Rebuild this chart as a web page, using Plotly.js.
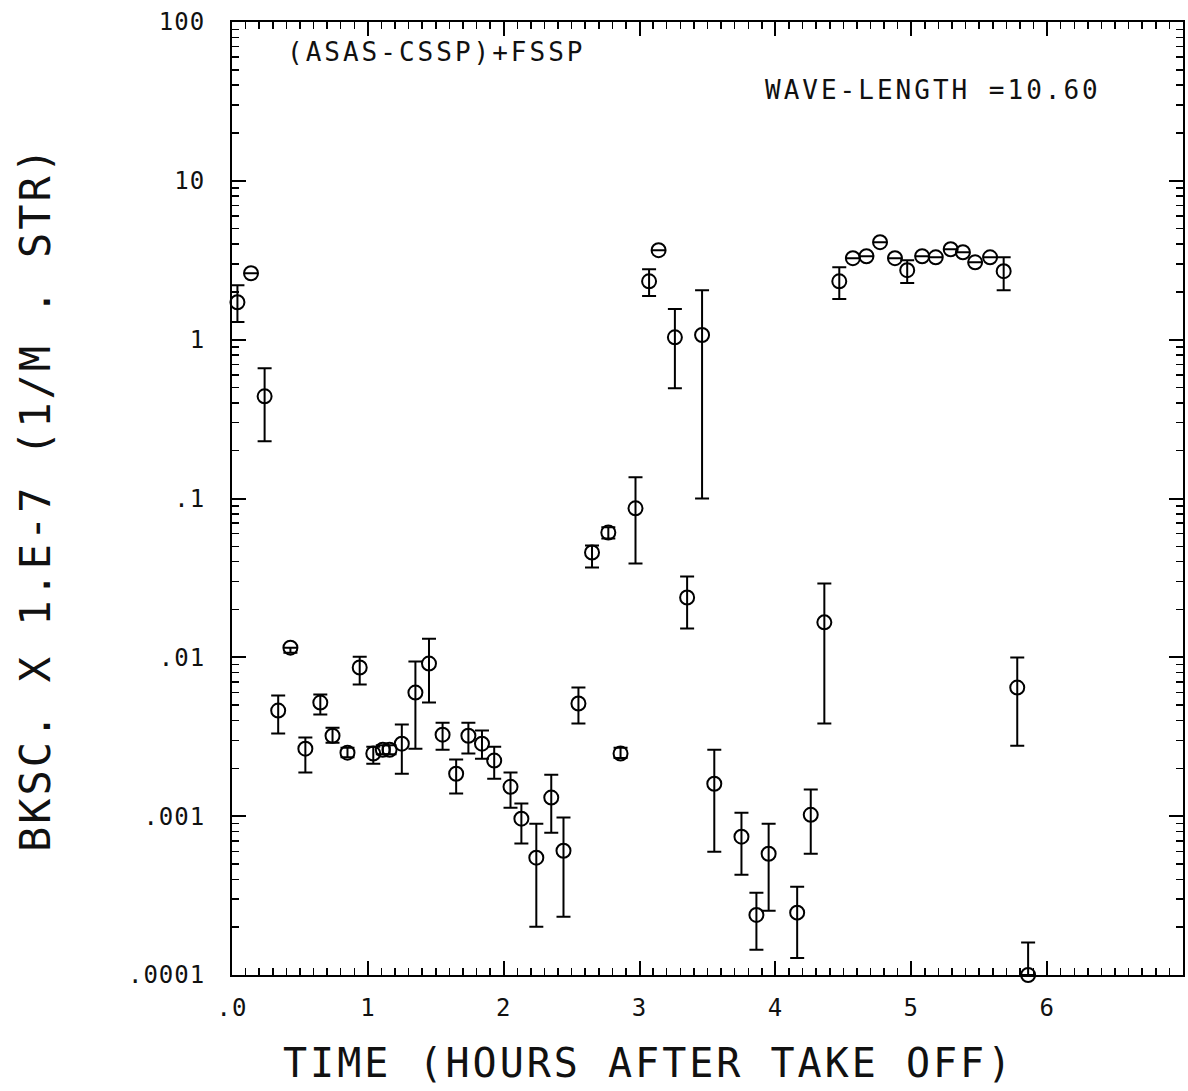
<!DOCTYPE html>
<html>
<head>
<meta charset="utf-8">
<script src="https://cdn.plot.ly/plotly-3.0.1.min.js"></script>
<style>
  html, body { margin: 0; padding: 0; background: #fff; }
  #chart { width: 1188px; height: 1091px; }
  .xtitle, .ytitle { letter-spacing: 3px; }
  .annotation-text { letter-spacing: 3px; }
  .xtick text, .ytick text { letter-spacing: 1px; }
</style>
</head>
<body>
<div id="chart"></div>
<script>
// Time (hours after take off)
const time = [0.04, 0.14, 0.24, 0.34, 0.43, 0.54, 0.65, 0.74, 0.85, 0.94,
  1.04, 1.11, 1.16, 1.25, 1.35, 1.45, 1.55, 1.65, 1.74, 1.84,
  1.93, 2.05, 2.13, 2.24, 2.35, 2.44, 2.55, 2.65, 2.77, 2.86,
  2.97, 3.07, 3.14, 3.26, 3.35, 3.46, 3.55, 3.75, 3.86, 3.95,
  4.16, 4.26, 4.36, 4.47, 4.57, 4.67, 4.77, 4.88, 4.97, 5.08,
  5.18, 5.29, 5.38, 5.47, 5.58, 5.68, 5.78, 5.86];
// Backscatter x 1.E-7 (1/M . STR)
const bksc = [1.72, 2.62, 0.44, 0.00462, 0.0115, 0.00266, 0.00519, 0.00321, 0.00251, 0.00863,
  0.00248, 0.00262, 0.00262, 0.00286, 0.0060, 0.00914, 0.00326, 0.00185, 0.00321, 0.00286,
  0.00224, 0.00153, 0.000964, 0.000548, 0.00131, 0.000606, 0.00512, 0.0457, 0.0611, 0.00248,
  0.0867, 2.33, 3.66, 1.035, 0.0238, 1.07, 0.0016, 0.000743, 0.000239, 0.00058,
  0.000247, 0.00102, 0.0166, 2.33, 3.26, 3.35, 4.11, 3.26, 2.74, 3.35,
  3.3, 3.71, 3.55, 3.07, 3.3, 2.7, 0.00645, 0.0001];
// Upper end of error bar
const upper = [2.2, 2.62, 0.66, 0.00575, 0.0115, 0.00313, 0.00583, 0.0036, 0.0027, 0.0101,
  0.00274, 0.0028, 0.0028, 0.00377, 0.00942, 0.0131, 0.00388, 0.00227, 0.00388, 0.00346,
  0.00274, 0.00188, 0.0012, 0.000897, 0.00182, 0.00098, 0.00646, 0.0506, 0.066, 0.0027,
  0.136, 2.78, 3.66, 1.56, 0.0323, 2.05, 0.00262, 0.00105, 0.00033, 0.000897,
  0.00036, 0.00147, 0.0292, 2.86, 3.26, 3.35, 4.11, 3.26, 3.16, 3.35,
  3.3, 3.71, 3.55, 3.07, 3.3, 3.3, 0.00997, 0.00016];
// Lower end of error bar
const lower = [1.29, 2.62, 0.229, 0.00331, 0.0107, 0.00188, 0.00437, 0.0029, 0.00235, 0.00675,
  0.00214, 0.00245, 0.00245, 0.00185, 0.00266, 0.00519, 0.00262, 0.00139, 0.00248, 0.0023,
  0.00172, 0.00113, 0.000672, 0.000201, 0.000787, 0.000233, 0.00383, 0.0368, 0.056, 0.00232,
  0.039, 1.88, 3.66, 0.494, 0.0152, 0.1, 0.000597, 0.000428, 0.000144, 0.000254,
  0.000128, 0.00058, 0.00383, 1.8, 3.26, 3.35, 4.11, 3.26, 2.27, 3.35,
  3.3, 3.71, 3.55, 3.07, 3.3, 2.05, 0.00278, 0.0001];

const xTickVals = [0, 1, 2, 3, 4, 5, 6, 7];
const xTickText = ['.0', '1', '2', '3', '4', '5', '6', '7'];
const yTickVals = [0.0001, 0.001, 0.01, 0.1, 1, 10, 100];
const yTickText = ['.0001', '.001', '.01', '.1', '1', '10', '100'];

const errPlus = bksc.map((v, i) => upper[i] - v);
const errMinus = bksc.map((v, i) => v - lower[i]);

const yMinor = [];
for (let e = -4; e < 2; e++) {
  for (let k = 2; k <= 9; k++) yMinor.push(k * Math.pow(10, e));
}

const FONT = '"DejaVu Sans Mono", monospace';

const trace = {
  type: 'scatter',
  mode: 'markers',
  x: time,
  y: bksc,
  marker: { symbol: 'circle-open', size: 14, color: '#000', line: { width: 2, color: '#000' } },
  error_y: {
    type: 'data', symmetric: false, array: errPlus, arrayminus: errMinus,
    color: '#000', thickness: 2, width: 7
  },
  cliponaxis: false,
  showlegend: false
};

const layout = {
  width: 1188,
  height: 1091,
  margin: { l: 232, r: 5, t: 22, b: 116 },
  paper_bgcolor: '#fff',
  plot_bgcolor: '#fff',
  font: { family: FONT, color: '#111' },
  showlegend: false,
  xaxis: {
    range: [0, 7],
    tickmode: 'array', tickvals: xTickVals, ticktext: xTickText,
    ticks: 'inside', ticklen: 14, tickwidth: 2, tickcolor: '#000',
    minor: { tickmode: 'linear', tick0: 0, dtick: 0.1, ticks: 'inside', ticklen: 7, tickwidth: 1.5, tickcolor: '#000', showgrid: false },
    showline: true, linecolor: '#000', linewidth: 2, mirror: 'allticks',
    showgrid: false, zeroline: false,
    tickfont: { family: FONT, size: 24, color: '#111' },
    ticklabelstandoff: 10
  },
  yaxis: {
    type: 'log',
    range: [-4, 2],
    tickmode: 'array', tickvals: yTickVals, ticktext: yTickText,
    ticks: 'inside', ticklen: 14, tickwidth: 2, tickcolor: '#000',
    minor: { tickmode: 'array', tickvals: yMinor, ticks: 'inside', ticklen: 7, tickwidth: 1.5, tickcolor: '#000', showgrid: false },
    showline: true, linecolor: '#000', linewidth: 2, mirror: 'allticks',
    showgrid: false, zeroline: false,
    tickfont: { family: FONT, size: 24, color: '#111' },
    ticklabelstandoff: 20,
    title: { text: 'BKSC. X 1.E-7 (1/M . STR)', font: { family: FONT, size: 42, color: '#111' }, standoff: 64 }
  },
  annotations: [
    { xref: 'paper', yref: 'paper', x: 0.056, y: 0.9685, xanchor: 'left', yanchor: 'middle',
      text: '(ASAS-CSSP)+FSSP', showarrow: false, font: { family: FONT, size: 26, color: '#111' } },
    { xref: 'paper', yref: 'paper', x: 0.558, y: 0.9286, xanchor: 'left', yanchor: 'middle',
      text: 'WAVE-LENGTH =10.60', showarrow: false, font: { family: FONT, size: 26, color: '#111' } },
    { xref: 'paper', yref: 'paper', x: 0.4375, y: -0.092, xanchor: 'center', yanchor: 'middle',
      text: 'TIME (HOURS AFTER TAKE OFF)', showarrow: false, font: { family: FONT, size: 40, color: '#111' } }
  ]
};

Plotly.newPlot('chart', [trace], layout, { staticPlot: true, displayModeBar: false });
</script>
</body>
</html>
